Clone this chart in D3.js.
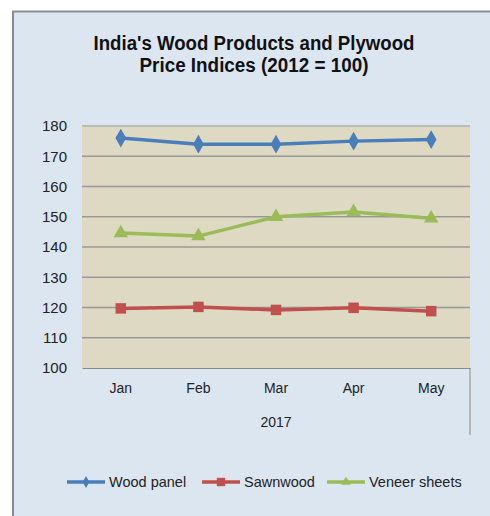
<!DOCTYPE html>
<html><head><meta charset="utf-8">
<script src="https://cdn.jsdelivr.net/npm/d3@7"></script>
<style>body{margin:0;background:#fff}svg{display:block}</style>
</head><body>
<script>
const months = ["Jan","Feb","Mar","Apr","May"];
const year = "2017";
const woodPanel = [176, 174, 174, 175, 175.5];
const sawnwood = [119.7, 120.2, 119.2, 119.9, 118.8];
const veneer = [144.6, 143.6, 150, 151.6, 149.5];
const yTicks = [100,110,120,130,140,150,160,170,180];
const seriesNames = ["Wood panel","Sawnwood","Veneer sheets"];
const colors = ["#4a7ebb","#c0504d","#9bbb59"];

const W = 490, H = 516;
const svg = d3.select("body").append("svg").attr("width", W).attr("height", H);
svg.append("rect").attr("x",13).attr("y",11.5).attr("width",520).attr("height",520)
  .attr("fill","#dce6f1").attr("stroke","#8c8c8c").attr("stroke-width",2);

const L = 82, R = 470, T = 126, B = 368;
const x = d3.scaleBand().domain(months).range([L,R]);
const y = d3.scaleLinear().domain([100,180]).range([B,T]);

svg.append("rect").attr("x",L).attr("y",T).attr("width",R-L).attr("height",B-T).attr("fill","#ddd9c3");

// gridlines
svg.append("g").selectAll("line").data(yTicks.slice(1)).join("line")
  .attr("x1",L).attr("x2",R).attr("y1",d=>y(d)).attr("y2",d=>y(d))
  .attr("stroke", d=> d===180 ? "#b0b0b0" : "#999").attr("stroke-width",1.5);

const font = "Liberation Sans, Arial, sans-serif";
// y axis
const yAxis = svg.append("g").attr("transform",`translate(${L},0)`)
  .call(d3.axisLeft(y).tickValues(yTicks).tickSize(0).tickPadding(15));
yAxis.select(".domain").remove();
yAxis.attr("font-size",null).attr("font-family",null);
yAxis.selectAll("text").style("font-family",font).style("font-size","15px").attr("fill","#222");

// x axis
const xAxis = svg.append("g").attr("transform",`translate(0,${B})`)
  .call(d3.axisBottom(x).tickSize(0).tickPadding(15));
xAxis.attr("font-size",null).attr("font-family",null);
xAxis.select(".domain").attr("stroke","#8a8a8a").attr("stroke-width",1.2);
xAxis.selectAll("text").style("font-family",font).style("font-size","14px").attr("fill","#222");
svg.append("line").attr("x1",R).attr("x2",R).attr("y1",B).attr("y2",435).attr("stroke","#8a8a8a").attr("stroke-width",1);
svg.append("text").attr("x",(L+R)/2).attr("y",427).attr("text-anchor","middle")
  .style("font-family",font).style("font-size","14px").attr("fill","#222").text(year);

// title
const title = svg.append("text").attr("text-anchor","middle").style("font-family",font)
  .style("font-weight","bold").style("font-size","19.5px").attr("fill","#111");
title.append("tspan").attr("x",254).attr("y",50).attr("textLength",321).attr("lengthAdjust","spacingAndGlyphs").text("India's Wood Products and Plywood");
title.append("tspan").attr("x",254).attr("y",72).attr("textLength",229).attr("lengthAdjust","spacingAndGlyphs").text("Price Indices (2012 = 100)");

const data = [woodPanel, sawnwood, veneer];
const cx = i => x(months[i]) + x.bandwidth()/2;
const line = d3.line().x((d,i)=>cx(i)).y(d=>y(d));
const symbols = [d3.symbolDiamond, d3.symbolSquare, d3.symbolTriangle];
const sizes = [100, 110, 90];

data.forEach((s,k)=>{
  svg.append("path").datum(s).attr("d",line).attr("fill","none").attr("stroke",colors[k])
    .attr("stroke-width",3.5).attr("stroke-linejoin","round");
  svg.append("g").selectAll("path").data(s).join("path")
    .attr("transform",(d,i)=>`translate(${cx(i)},${y(d)})`)
    .attr("d", d3.symbol().type(symbols[k]).size(sizes[k])).attr("fill",colors[k]);
});

// legend
const legX = [67, 202, 327];
const lg = svg.append("g");
seriesNames.forEach((n,k)=>{
  const g = lg.append("g").attr("transform",`translate(${legX[k]},482)`);
  g.append("line").attr("x1",0).attr("x2",38).attr("stroke",colors[k]).attr("stroke-width",3.5);
  g.append("path").attr("transform","translate(19,0)").attr("d",d3.symbol().type(symbols[k]).size(k===1?70:40)).attr("fill",colors[k]);
  g.append("text").attr("x",42).attr("y",5).style("font-family",font)
    .style("font-size","14.5px").attr("fill","#222").text(n);
});
</script>
</body></html>
